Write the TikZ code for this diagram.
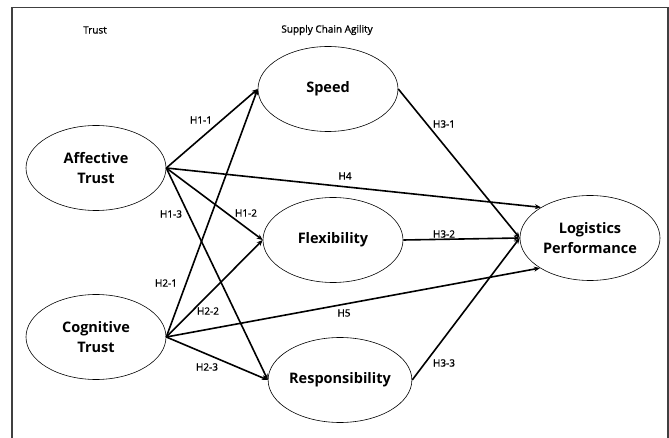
\documentclass[tikz,border=0pt]{standalone}
\usepackage{fontspec}
\setmainfont{Open Sans}
\newfontfamily\hypfont{Open Sans}[FakeBold=1.2]
\usetikzlibrary{arrows.meta,shapes.geometric,positioning}

\begin{document}
\begin{tikzpicture}[
  x=1pt,y=-1pt,
  construct/.style={ellipse,draw,line width=0.6pt,minimum width=140pt,minimum height=85pt,
    inner sep=0pt,align=center,font=\fontsize{14.5}{20}\selectfont\bfseries},
  path/.style={-{Stealth[length=6pt,width=5pt]},line width=1.6pt},
  hyp/.style={font=\fontsize{10}{12}\hypfont,inner sep=1pt},
  group/.style={font=\fontsize{10}{12}\hypfont,inner sep=1pt}
]
\useasboundingbox (0,0) rectangle (669,438);
\draw[line width=1.3pt,black!75] (12,7.5) rectangle (668,460);

% constructs
\node[construct] (AT) at (96,168) {Affective\\Trust};
\node[construct] (CT) at (96,337) {Cognitive\\Trust};
\node[construct] (SP) at (328,89) {Speed};
\node[construct] (FL) at (333,240) {Flexibility};
\node[construct] (RE) at (340,380) {Responsibility};
\node[construct] (LP) at (590,238) {Logistics\\Performance};

% group titles
\node[group] (Ttrust) at (95,30) {Trust};
\node[group] (Tsca) at (327,30) {Supply Chain Agility};

% paths
\draw[path] (AT.east) -- (SP.west);
\draw[path] (AT.east) -- (FL.west);
\draw[path] (AT.east) -- (RE.west);
\draw[path] (CT.east) -- (SP.west);
\draw[path] (CT.east) -- (FL.west);
\draw[path] (CT.east) -- (RE.west);
\draw[path] (AT.east) -- (LP.148);
\draw[path] (CT.east) -- (LP.211);
\draw[path] (SP.east) -- (LP.west);
\draw[path] (FL.east) -- (LP.west);
\draw[path] (RE.east) -- (LP.west);

% hypothesis labels
\node[hyp] (H11) at (201,120) {H1-1};
\node[hyp] (H12) at (246,213) {H1-2};
\node[hyp] (H13) at (171,214) {H1-3};
\node[hyp] (H21) at (166,283) {H2-1};
\node[hyp] (H22) at (208,311) {H2-2};
\node[hyp] (H23) at (207,367) {H2-3};
\node[hyp] (H4) at (345,176) {H4};
\node[hyp] (H5) at (344,313) {H5};
\node[hyp] (H31) at (444,124) {H3-1};
\node[hyp] (H32) at (444,234) {H3-2};
\node[hyp] (H33) at (444,363) {H3-3};

\end{tikzpicture}
\end{document}
